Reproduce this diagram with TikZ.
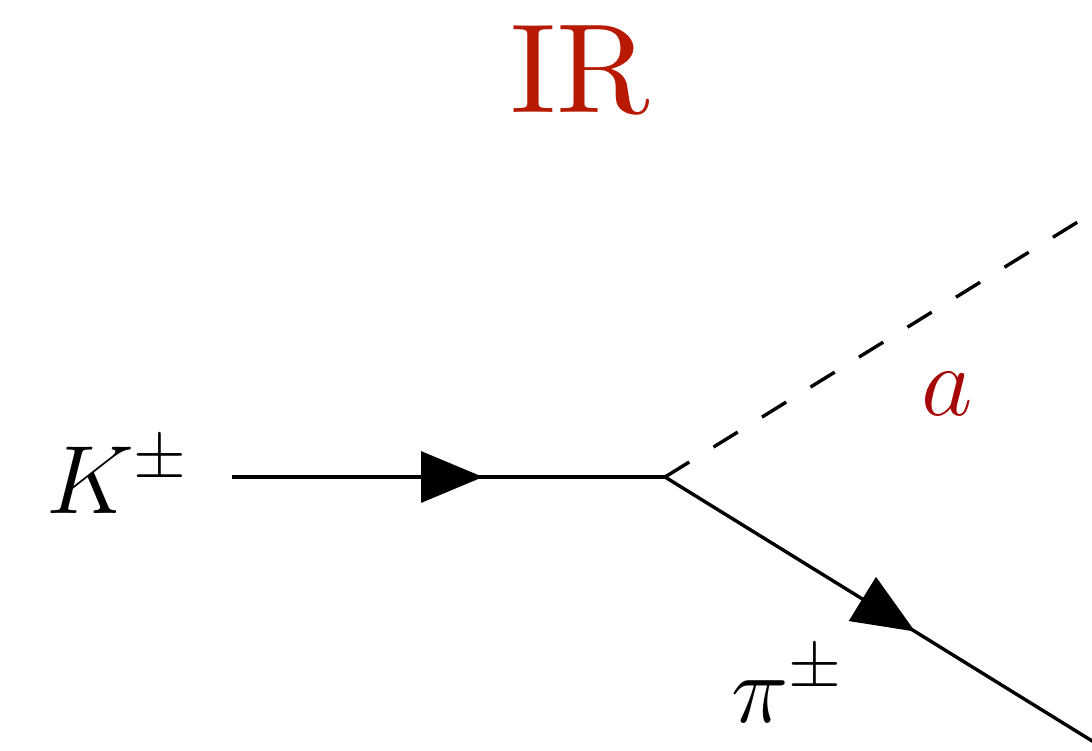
\RequirePackage{fix-cm}
\documentclass[tikz,border=0pt]{standalone}
\usetikzlibrary{arrows.meta,decorations.markings}
\definecolor{irred}{RGB}{183,25,3}
\definecolor{ared}{RGB}{166,8,8}
\font\irfnt=cmr10 at 127pt
\tikzset{
  lbl/.style={inner sep=0pt, anchor=base west},
  fermion/.style={line width=3.4pt},
  scalar/.style={line width=3.4pt, dash pattern=on 28.5pt off 28.5pt},
  tri/.tip={Triangle[length=62pt,width=51pt]},
}
\begin{document}
\begin{tikzpicture}[x=1pt,y=-1pt]
\useasboundingbox (0,0) rectangle (1092,750);
\clip (0,0) rectangle (1092,750);
\node[inner sep=0pt, anchor=base, text=irred] (IR) at (580,112) {\irfnt IR};
\node[lbl] (K) at (46,513) {\fontsize{97}{100}\selectfont $K^{\pm}$};
\node[lbl] (pi) at (731,722) {\fontsize{97}{100}\selectfont $\pi^{\pm}$};
\node[lbl, text=ared] (a) at (921,415) {\fontsize{100}{110}\selectfont $a$};
\coordinate (kin) at (232,477);
\coordinate (v) at (665,477);
\coordinate (aend) at (1165,168);
\coordinate (piend) at (1165,786);
\draw[fermion, postaction={decorate}, decoration={markings, mark=at position 251pt with {\arrow{tri}}}] (kin) -- (v);
\draw[fermion, postaction={decorate}, decoration={markings, mark=at position 294pt with {\arrow{tri}}}] (v) -- (piend);
\draw[scalar] (v) -- (aend);
\end{tikzpicture}
\end{document}
